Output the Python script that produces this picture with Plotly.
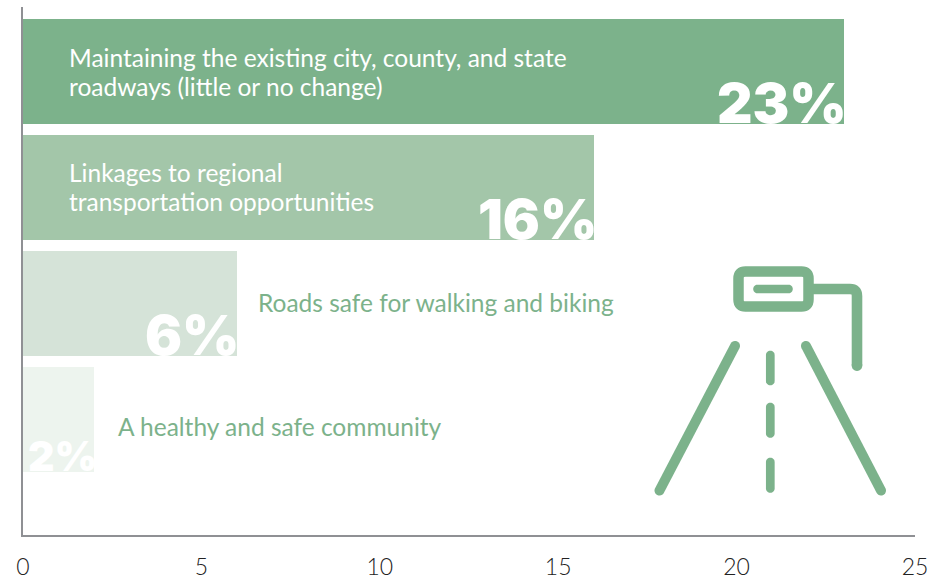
import math
import plotly.graph_objects as go

categories = ["Maintaining", "Linkages", "Roads safe", "Healthy", ""]
values = [23, 16, 6, 2, None]
pct_labels = ["23%", "16%", "6%", "2%"]
bar_colors = ["#7CB28B", "#A3C6A9", "#D5E3D8", "#EDF4EE", "#FFFFFF"]
tick_vals = [0, 5, 10, 15, 20, 25]
label_lines = [
    "Maintaining the existing city, county, and state",
    "roadways (little or no change)",
    "Linkages to regional",
    "transportation opportunities",
    "Roads safe for walking and biking",
    "A healthy and safe community",
]

W, H = 947, 579
L, T, R, B = 23, 7, 32, 44
PW, PH = W - L - R, H - T - B
GREEN = "#7CB28B"
FONT = "Lato"


def px(x):
    return (x - L) / PW


def py(y):
    return 1 - (y - T) / PH


def P(x, y):
    return f"{px(x):.5f},{py(y):.5f}"


def capsule(x1, y1, x2, y2, w):
    a = math.atan2(y2 - y1, x2 - x1)
    pts = []
    for (cx, cy, start) in ((x2, y2, a - math.pi / 2), (x1, y1, a + math.pi / 2)):
        for i in range(13):
            t = start + math.pi * i / 12
            pts.append((cx + w / 2 * math.cos(t), cy + w / 2 * math.sin(t)))
    d = "M" + " L".join(P(*p) for p in pts) + " Z"
    return dict(type="path", xref="paper", yref="paper", path=d, fillcolor=GREEN, line=dict(width=0), layer="above")


def stroke(d, w):
    return dict(type="path", xref="paper", yref="paper", path=d, line=dict(color=GREEN, width=w), layer="above")


x0, x1, y0, y1, r = 738.5, 808.5, 271.5, 306.5, 7
sign = (f"M{P(x0 + r, y0)} L{P(x1 - r, y0)} Q{P(x1, y0)} {P(x1, y0 + r)} L{P(x1, y1 - r)} "
        f"Q{P(x1, y1)} {P(x1 - r, y1)} L{P(x0 + r, y1)} Q{P(x0, y1)} {P(x0, y1 - r)} "
        f"L{P(x0, y0 + r)} Q{P(x0, y0)} {P(x0 + r, y0)} Z")
arm = f"M{P(812, 289)} L{P(850, 289)} Q{P(857, 289)} {P(857, 296)} L{P(857, 365.5)}"

icon = [
    stroke(sign, 10.5),
    stroke(arm, 10.6),
    capsule(857, 365.5, 857, 365.6, 10.6),
    capsule(757.5, 289, 788.5, 289, 8.6),
    capsule(735, 346, 659.5, 490.5, 10),
    capsule(806, 346, 881, 490.5, 10),
    capsule(770.3, 355, 770.3, 381, 8.7),
    capsule(770.3, 407, 770.3, 433.5, 8.7),
    capsule(770.3, 462, 770.3, 488.5, 8.7),
]

fig = go.Figure(
    go.Bar(
        y=categories,
        x=values,
        orientation="h",
        width=0.905,
        marker=dict(color=bar_colors, line=dict(width=0)),
        hoverinfo="skip",
    )
)

annotations = []
line_pos = [(68, 57, "#FFFFFF"), (68, 87, "#FFFFFF"), (68, 172, "#FFFFFF"), (68, 201, "#FFFFFF"),
            (257, 302, GREEN), (117, 426, GREEN)]
for txt, (x, y, c) in zip(label_lines, line_pos):
    annotations.append(dict(xref="paper", yref="paper", x=px(x), y=py(y), xanchor="left", yanchor="middle",
                            text=txt, showarrow=False, borderpad=0,
                            font=dict(family=FONT, size=24.5, color=c)))

pct_sizes = [55, 55, 55, 41]
pct_tops = [103, 219, 335, 456]
for lab, val, s, yc in zip(pct_labels, values, pct_sizes, pct_tops):
    annotations.append(dict(xref="x", yref="paper", x=val, y=py(yc), xanchor="right", yanchor="middle",
                            xshift=4, text=lab, showarrow=False, borderpad=0,
                            font=dict(family="Inter", size=s, color="#FFFFFF", weight=900)))

fig.update_layout(
    width=W,
    height=H,
    margin=dict(l=L, r=R, t=T, b=B, pad=0, autoexpand=False),
    paper_bgcolor="#FFFFFF",
    plot_bgcolor="#FFFFFF",
    showlegend=False,
    shapes=icon,
    annotations=annotations,
    bargap=0,
    xaxis=dict(range=[0, 25], tickvals=tick_vals, showgrid=False, zeroline=False, showline=True, automargin=False,
               linecolor="#8F9094", linewidth=2, ticks="outside", ticklen=10, tickcolor="rgba(0,0,0,0)",
               tickfont=dict(family=FONT, size=23, color="#222222", weight=300)),
    yaxis=dict(type="category", categoryorder="array", categoryarray=categories,
               range=[3.996, -0.556], showticklabels=False, showgrid=False, zeroline=False,
               showline=True, linecolor="#8F9094", linewidth=2, ticks=""),
)
fig.write_html("out.html", post_script="document.body.style.margin='0';", config=dict(displayModeBar=False))
